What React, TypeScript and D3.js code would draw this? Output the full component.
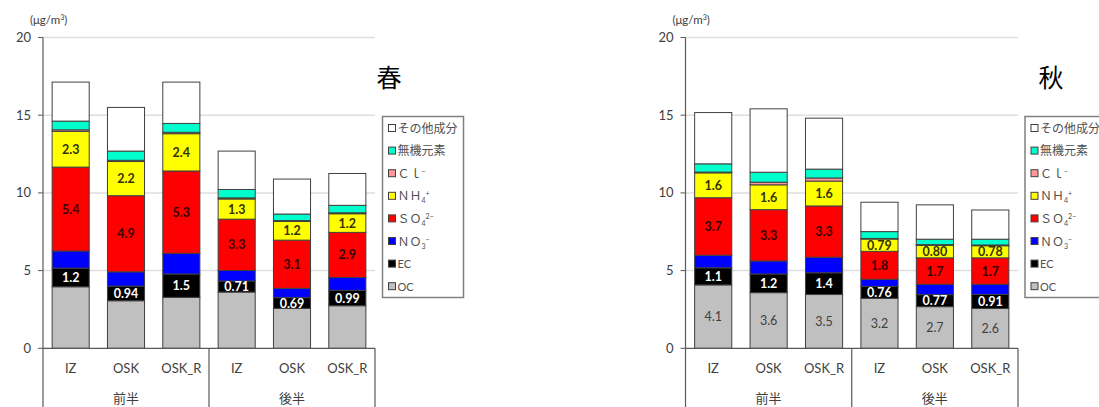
import React from "react";
import * as d3 from "d3";

const categories = ["IZ", "OSK", "OSK_R", "IZ", "OSK", "OSK_R"];
const groups = ["前半", "後半"];
const yTicks = [0, 5, 10, 15, 20];

// Spring (春)
const springOC = [3.96, 3.06, 3.28, 3.62, 2.57, 2.74];
const springEC = [1.2, 0.94, 1.5, 0.71, 0.69, 0.99];
const springNO3 = [1.1, 0.92, 1.33, 0.68, 0.6, 0.83];
const springSO4 = [5.4, 4.9, 5.3, 3.3, 3.1, 2.9];
const springNH4 = [2.3, 2.2, 2.4, 1.3, 1.2, 1.2];
const springCl = [0.1, 0.08, 0.09, 0.07, 0.06, 0.06];
const springInorg = [0.56, 0.59, 0.57, 0.54, 0.42, 0.48];
const springOther = [2.51, 2.81, 2.66, 2.47, 2.25, 2.05];

// Autumn (秋)
const autumnOC = [4.08, 3.58, 3.46, 3.22, 2.68, 2.56];
const autumnEC = [1.1, 1.2, 1.4, 0.76, 0.77, 0.91];
const autumnNO3 = [0.81, 0.84, 1.0, 0.46, 0.67, 0.65];
const autumnSO4 = [3.7, 3.3, 3.3, 1.8, 1.7, 1.7];
const autumnNH4 = [1.6, 1.6, 1.6, 0.79, 0.8, 0.78];
const autumnCl = [0.05, 0.17, 0.2, 0.04, 0.05, 0.05];
const autumnInorg = [0.53, 0.64, 0.57, 0.44, 0.35, 0.37];
const autumnOther = [3.3, 4.08, 3.28, 1.89, 2.21, 1.88];

const colors: Record<string, string> = {
  OC: "#c0c0c0",
  EC: "#000000",
  NO3: "#0000ff",
  SO4: "#ff0000",
  Cl: "#ff9999",
  NH4: "#ffff00",
  Inorg: "#00ffcc",
  Other: "#ffffff",
};
const stackKeys = ["OC", "EC", "NO3", "SO4", "NH4", "Cl", "Inorg", "Other"];

const FONT = "Lato, 'Noto Sans CJK JP', sans-serif";
const JP = "'Noto Sans CJK JP', sans-serif";
const TXT = "#404040";

type Series = Record<string, number[]>;

function Legend({ x, y }: { x: number; y: number }) {
  const step = 22.6;
  const items: { key: string; label: React.ReactNode }[] = [
    { key: "Other", label: <tspan fontFamily={JP}>その他成分</tspan> },
    { key: "Inorg", label: <tspan fontFamily={JP}>無機元素</tspan> },
    {
      key: "Cl",
      label: (
        <>
          <tspan fontFamily={JP}>Ｃｌ</tspan>
          <tspan fontSize={7} dy={-4}>−</tspan>
        </>
      ),
    },
    {
      key: "NH4",
      label: (
        <>
          <tspan fontFamily={JP}>ＮＨ</tspan>
          <tspan fontSize={7} dy={3}>4</tspan>
          <tspan fontSize={7} dy={-7}>+</tspan>
        </>
      ),
    },
    {
      key: "SO4",
      label: (
        <>
          <tspan fontFamily={JP}>ＳＯ</tspan>
          <tspan fontSize={7} dy={3}>4</tspan>
          <tspan fontSize={7} dy={-7}>2−</tspan>
        </>
      ),
    },
    {
      key: "NO3",
      label: (
        <>
          <tspan fontFamily={JP}>ＮＯ</tspan>
          <tspan fontSize={7} dy={3}>3</tspan>
          <tspan fontSize={7} dy={-7}>−</tspan>
        </>
      ),
    },
    { key: "EC", label: <tspan fontSize={11}>EC</tspan> },
    { key: "OC", label: <tspan fontSize={11}>OC</tspan> },
  ];
  return (
    <g>
      <rect x={x} y={y} width={81} height={181} fill="#fff" stroke="#808080" strokeWidth={1.5} />
      {items.map((it, i) => {
        const cy = y + 11.5 + i * step;
        return (
          <g key={it.key}>
            <rect x={x + 6} y={cy - 3.5} width={7} height={7} fill={colors[it.key]} stroke="#404040" strokeWidth={1} />
            <text x={x + 15} y={cy + 4.5} fontSize={12} fill="#505050" fontFamily={FONT}>
              {it.label}
            </text>
          </g>
        );
      })}
    </g>
  );
}

function Chart({
  axisX,
  plotRight,
  data,
  title,
  titleX,
  legendX,
  showOC,
}: {
  axisX: number;
  plotRight: number;
  data: Series;
  title: string;
  titleX: number;
  legendX: number;
  showOC: boolean;
}) {
  const y = d3.scaleLinear().domain([0, 20]).range([348.3, 37.5]);
  const x = d3
    .scaleBand<number>()
    .domain(d3.range(categories.length))
    .range([axisX, plotRight])
    .paddingInner(0.33)
    .paddingOuter(0.165);
  const rows = categories.map((_, i) => {
    const r: Record<string, number> = {};
    stackKeys.forEach((k) => (r[k] = data[k][i]));
    return r;
  });
  const stacked = d3.stack<Record<string, number>>().keys(stackKeys)(rows);
  const fmt = d3.format(".2r");
  const step = x.step();
  const y0 = y(0);
  const labelSpec: Record<string, { fill: string; weight: string }> = {
    EC: { fill: "#ffffff", weight: "bold" },
    SO4: { fill: "#3a0000", weight: "bold" },
    NH4: { fill: "#333300", weight: "bold" },
    OC: { fill: "#404040", weight: "normal" },
  };
  return (
    <g>
      <text x={axisX - 13} y={24} fontSize={11.5} fill={TXT} fontFamily={FONT}>
        (μg/m<tspan fontSize={7} dy={-4}>3</tspan>
        <tspan dy={4}>)</tspan>
      </text>
      {yTicks.map((t) => (
        <g key={t}>
          {t > 0 && (
            <line x1={axisX} x2={plotRight} y1={y(t)} y2={y(t)} stroke="#dedede" strokeWidth={1.5} />
          )}
          <line x1={axisX - 5} x2={axisX} y1={y(t)} y2={y(t)} stroke="#595959" strokeWidth={1} />
          <text
            x={axisX - 12}
            y={y(t)}
            dy="0.35em"
            textAnchor="end"
            fontSize={13}
            fill={TXT}
            fontFamily={FONT}
          >
            {t}
          </text>
        </g>
      ))}
      {stacked.map((s) =>
        s.map((d, i) => (
          <rect
            key={s.key + i}
            x={x(i)}
            y={y(d[1])}
            width={x.bandwidth()}
            height={Math.max(0, y(d[0]) - y(d[1]))}
            fill={colors[s.key]}
            stroke="#404040"
            strokeWidth={1}
          />
        ))
      )}
      {stacked.map((s) => {
        const spec = labelSpec[s.key];
        if (!spec) return null;
        if (s.key === "OC" && !showOC) return null;
        return s.map((d, i) => (
          <text
            key={"l" + s.key + i}
            x={(x(i) as number) + x.bandwidth() / 2}
            y={(y(d[0]) + y(d[1])) / 2}
            dy="0.36em"
            textAnchor="middle"
            fontSize={12.5}
            fontWeight={spec.weight}
            fill={spec.fill}
            fontFamily={FONT}
          >
            {fmt(d[1] - d[0])}
          </text>
        ));
      })}
      <line x1={axisX} x2={axisX} y1={y(20)} y2={y0} stroke="#595959" strokeWidth={1.2} />
      <line x1={axisX} x2={plotRight} y1={y0} y2={y0} stroke="#595959" strokeWidth={1.2} />
      {[0, 3, 6].map((k) => (
        <line
          key={k}
          x1={axisX + k * step}
          x2={axisX + k * step}
          y1={y0}
          y2={407}
          stroke="#595959"
          strokeWidth={1.2}
        />
      ))}
      {categories.map((c, i) => (
        <text
          key={"c" + i}
          x={(x(i) as number) + x.bandwidth() / 2}
          y={373}
          textAnchor="middle"
          fontSize={13}
          fill={TXT}
          fontFamily={FONT}
        >
          {c}
        </text>
      ))}
      {groups.map((g, k) => (
        <text
          key={g}
          x={axisX + (k * 3 + 1.5) * step}
          y={403}
          textAnchor="middle"
          fontSize={13}
          fill={TXT}
          fontFamily={JP}
        >
          {g}
        </text>
      ))}
      <text x={titleX} y={87} textAnchor="middle" fontSize={25} fill="#000" fontFamily={JP}>
        {title}
      </text>
      <Legend x={legendX} y={116.5} />
    </g>
  );
}

export default function App() {
  const spring: Series = {
    OC: springOC,
    EC: springEC,
    NO3: springNO3,
    SO4: springSO4,
    NH4: springNH4,
    Cl: springCl,
    Inorg: springInorg,
    Other: springOther,
  };
  const autumn: Series = {
    OC: autumnOC,
    EC: autumnEC,
    NO3: autumnNO3,
    SO4: autumnSO4,
    NH4: autumnNH4,
    Cl: autumnCl,
    Inorg: autumnInorg,
    Other: autumnOther,
  };
  return (
    <svg
      width={1099}
      height={407}
      style={{ position: "absolute", left: 0, top: 0, background: "#fff" }}
    >
      <rect width={1099} height={407} fill="#fff" />
      <Chart axisX={43} plotRight={375} data={spring} title="春" titleX={389} legendX={382.5} showOC={false} />
      <Chart axisX={685.5} plotRight={1018} data={autumn} title="秋" titleX={1051} legendX={1025} showOC={true} />
    </svg>
  );
}
